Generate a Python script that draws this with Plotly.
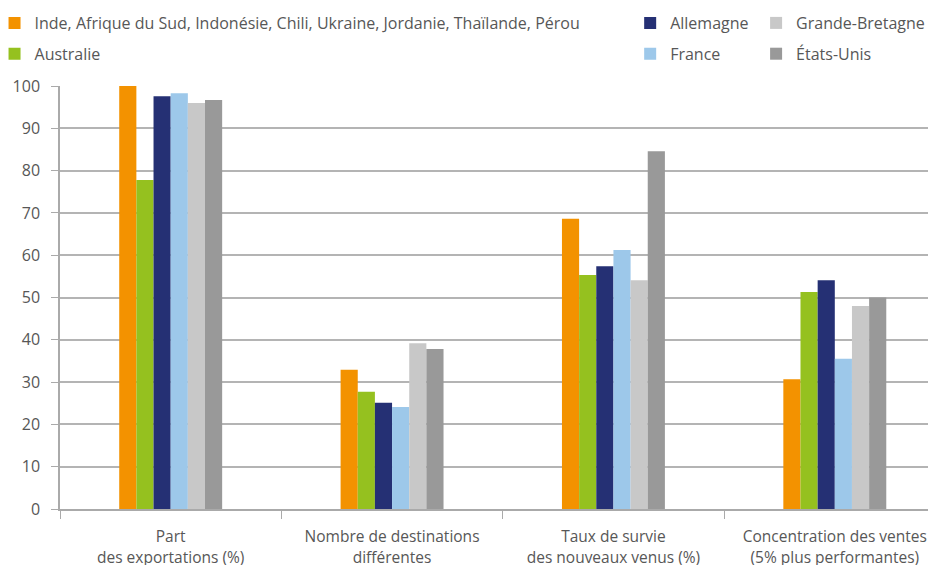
import plotly.graph_objects as go

categories = ["Part<br>des exportations (%)", "Nombre de destinations<br>différentes",
              "Taux de survie<br>des nouveaux venus (%)", "Concentration des ventes<br>(5% plus performantes)"]
series_names = ["Inde, Afrique du Sud, Indonésie, Chili, Ukraine, Jordanie, Thaïlande, Pérou",
                "Australie", "Allemagne", "France", "Grande-Bretagne", "États-Unis"]
emerging = [100.0, 32.9, 68.6, 30.7]
australia = [77.8, 27.7, 55.3, 51.3]
germany = [97.6, 25.1, 57.4, 54.1]
france = [98.3, 24.1, 61.2, 35.5]
uk = [96.0, 39.2, 54.1, 48.0]
usa = [96.7, 37.8, 84.6, 50.0]
values = [emerging, australia, germany, france, uk, usa]
colors = ["#F39200", "#95C11F", "#253074", "#9DC8EA", "#C8C8C8", "#999999"]
legend_ids = ["legend", "legend", "legend2", "legend2", "legend3", "legend3"]

FONT = "Open Sans"
TXT = "#575757"

fig = go.Figure()
for i, (name, vals, col, lg) in enumerate(zip(series_names, values, colors, legend_ids)):
    fig.add_trace(go.Bar(x=categories, y=vals, name=name, marker_color=col,
                         marker_line_width=0, legend=lg, legendgroup=str(i)))

W, H = 928, 565
ml, mt, mb = 59.5, 86, 56
pw = W - ml
ph = H - mt - mb

def px_x(x):
    return (x - ml) / pw

def px_y(y):
    return (H - mb - y) / ph

leg_common = dict(font=dict(family=FONT, size=16, color=TXT), bgcolor="rgba(0,0,0,0)",
                  traceorder="grouped", tracegroupgap=7, xanchor="left", yanchor="top",
                  xref="paper", yref="paper",
                  itemclick=False, itemdoubleclick=False, borderwidth=0)
ly = px_y(6)

fig.update_layout(
    width=W, height=H,
    margin=dict(l=ml, r=0, t=mt, b=mb, autoexpand=False),
    paper_bgcolor="white", plot_bgcolor="white",
    barmode="group", bargap=0.535, bargroupgap=0,
    font=dict(family=FONT, size=15, color=TXT),
    legend=dict(x=px_x(-6), y=ly, **leg_common),
    legend2=dict(x=px_x(630), y=ly, **leg_common),
    legend3=dict(x=px_x(756), y=ly, **leg_common),
    xaxis=dict(range=[-0.5, -0.5 + pw / 221.5], tickson="boundaries", ticks="outside",
               ticklen=8, tickcolor="#AAAAAA", tickwidth=1.2, showline=True,
               linecolor="#AAAAAA", linewidth=1.5, showgrid=False, automargin=False,
               ticklabelstandoff=13,
               tickfont=dict(family=FONT, size=15.5, color=TXT)),
    yaxis=dict(range=[0, 100], dtick=10, showgrid=True, gridcolor="#B4B4B4", gridwidth=1.5,
               zeroline=False, ticks="outside", ticklen=7, tickcolor="#AAAAAA", tickwidth=1.2,
               showline=True, linecolor="#AAAAAA", linewidth=1.5, automargin=False,
               ticklabelstandoff=8,
               tickfont=dict(family=FONT, size=16, color=TXT)),
)

fig.write_html("out.html")
